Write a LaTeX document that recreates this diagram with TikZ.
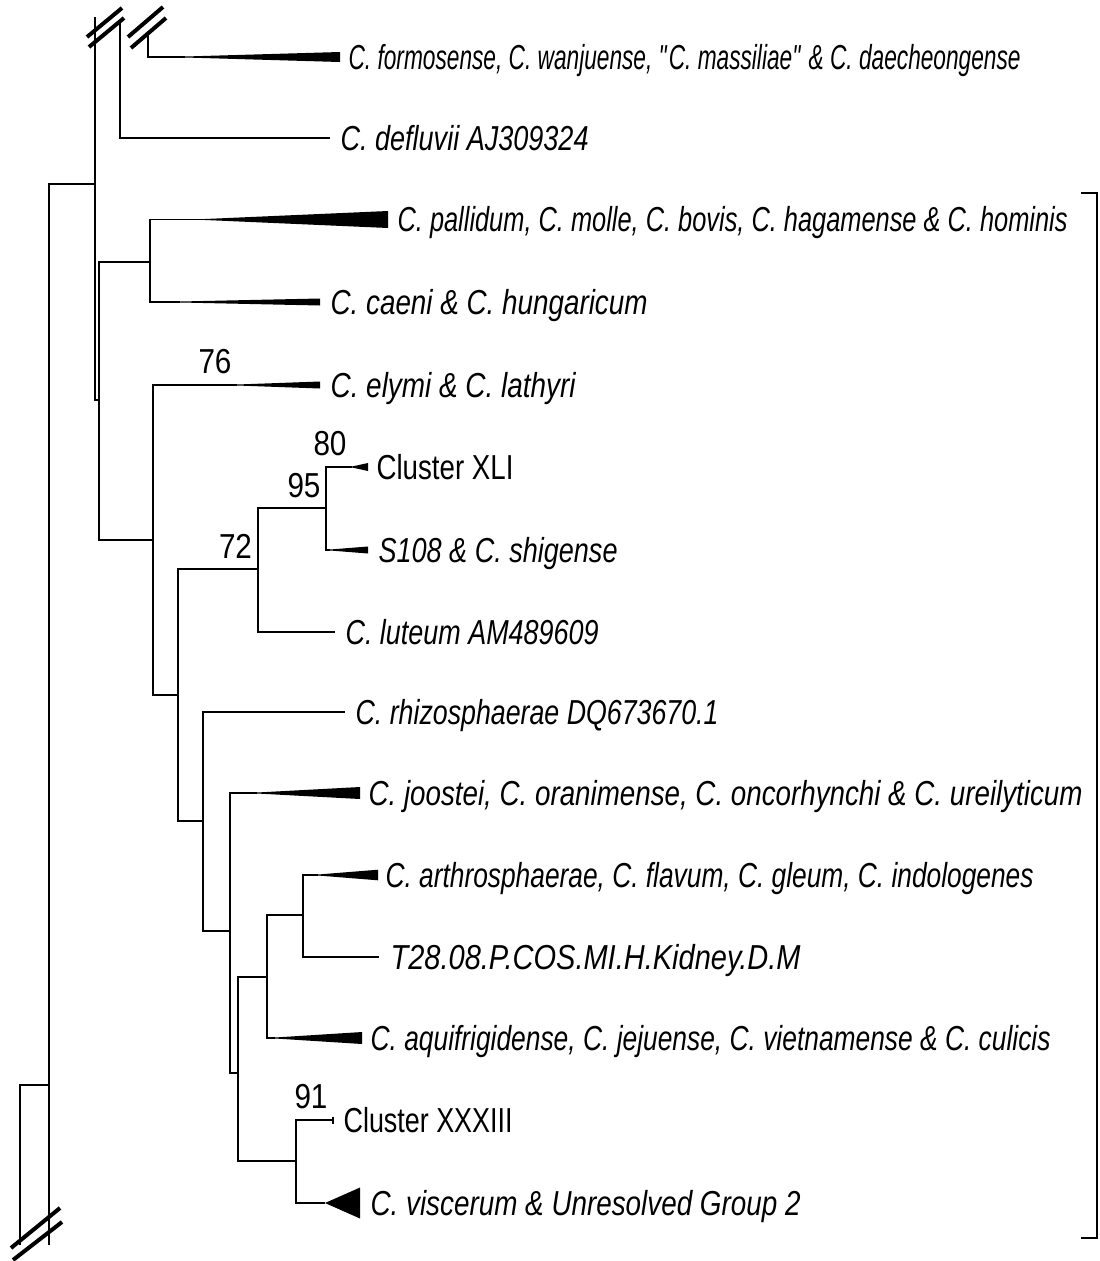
\documentclass[tikz,border=0pt]{standalone}
\usepackage{fontspec}
\setmainfont{Liberation Sans}[FakeStretch=0.80]
\newcommand\clade[4]{\fill (#1,#3-0.5) -- (#2,#3-#4) -- (#2,#3+#4) -- (#1,#3+0.5) -- cycle;}
\newsavebox\fitbox
\newcommand\fitw[2]{\sbox\fitbox{#2}\pgfmathsetmacro\fitr{#1*0.75/\wd\fitbox}\scalebox{\fitr}[1]{\usebox\fitbox}}
\begin{document}
\begin{tikzpicture}[x=0.75pt,y=-0.75pt, line width=0.9pt,
  brk/.style={line width=3pt},
  lab/.style={anchor=base west, inner sep=0pt, font=\fontsize{26}{30}\selectfont\itshape},
  labu/.style={anchor=base west, inner sep=0pt, font=\fontsize{26}{30}\selectfont},
  bs/.style={anchor=base, inner sep=0pt, font=\fontsize{26}{30}\selectfont}]
\useasboundingbox (0,0) rectangle (1100,1261);
% internal nodes
\coordinate (rt) at (20,1085); \coordinate (rb) at (20,1245);
\coordinate (a) at (49,1085); \coordinate (ab) at (49,1245);
\coordinate (b) at (95,184); \coordinate (bt) at (95,17);
\coordinate (c) at (120,22);
\coordinate (p) at (148,33);
\coordinate (d) at (99,400);
\coordinate (e) at (150,262);
\coordinate (f) at (153,540);
\coordinate (g) at (178,695);
\coordinate (h) at (258,569);
\coordinate (i) at (326,508);
\coordinate (j) at (203,821);
\coordinate (k) at (230,931);
\coordinate (l) at (238,1073);
\coordinate (m) at (267,977);
\coordinate (n) at (303,915);
\coordinate (o) at (296,1161);
% leaf ends
\coordinate (lf1) at (185,57);
\coordinate (lf2) at (330,138);
\coordinate (lf3) at (205,219.5);
\coordinate (lf4) at (180,302);
\coordinate (lf5) at (237,385);
\coordinate (lf6) at (352,467);
\coordinate (lf7) at (330,550);
\coordinate (lf8) at (335,632);
\coordinate (lf9) at (345,712);
\coordinate (lf10) at (257,793);
\coordinate (lf11) at (318,875);
\coordinate (lf12) at (379,957);
\coordinate (lf13) at (275,1038);
\coordinate (lf14) at (333,1120);
\coordinate (lf15) at (325,1203);
% branches
\draw (rb) -- (rt) -- (a);
\draw (ab) |- (b);
\draw (bt) |- (d);
\draw (c) |- (lf2);
\draw (p) |- (lf1);
\draw (d) |- (e); \draw (d) |- (f);
\draw (e) |- (lf3); \draw (e) |- (lf4);
\draw (f) |- (lf5); \draw (f) |- (g);
\draw (g) |- (h); \draw (g) |- (j);
\draw (h) |- (i); \draw (h) |- (lf8);
\draw (i) |- (lf6); \draw (i) |- (lf7);
\draw (j) |- (lf9); \draw (j) |- (k);
\draw (k) |- (lf10); \draw (k) |- (l);
\draw (l) |- (m); \draw (l) |- (o);
\draw (m) |- (n); \draw (m) |- (lf13);
\draw (n) |- (lf11); \draw (n) |- (lf12);
\draw (o) |- (lf14); \draw (o) |- (lf15);
\draw (333,1116.5) -- (333,1123.5);
% collapsed clades
\clade{185}{340}{57}{5}
\clade{205}{388}{219.5}{8.5}
\clade{180}{320}{302}{3.5}
\clade{237}{320}{385}{3.5}
\clade{352}{368}{467}{4}
\clade{330}{368}{550}{3.5}
\clade{257}{360}{793}{6}
\clade{318}{378}{875}{5.3}
\clade{275}{362}{1038}{6}
\fill (325,1203) -- (360,1187.5) -- (360,1218.5) -- cycle;
% break marks
\draw[brk] (87,37) -- (122,8);
\draw[brk] (89,47) -- (124,18);
\draw[brk] (128,37) -- (163,7);
\draw[brk] (131,48) -- (166,18);
\draw[brk] (11,1248) -- (60,1208);
\draw[brk] (13,1260) -- (62,1222);
% bracket
\coordinate (q1) at (1081,193); \coordinate (q2) at (1097,193);
\coordinate (q3) at (1097,1238); \coordinate (q4) at (1081,1238);
\draw (q1) -- (q2) -- (q3) -- (q4);
% labels
\node[lab] (t1) at (348,69) {\fitw{672}{C. formosense, C. wanjuense, \textquotedbl C. massiliae\textquotedbl{} \& C. daecheongense}};
\node[lab] (t2) at (340,150) {\fitw{248}{C. defluvii AJ309324}};
\node[lab] (t3) at (397,231) {\fitw{670}{C. pallidum, C. molle, C. bovis, C. hagamense \& C. hominis}};
\node[lab] (t4) at (330,314) {\fitw{317}{C. caeni \& C. hungaricum}};
\node[lab] (t5) at (330,397) {\fitw{245}{C. elymi \& C. lathyri}};
\node[labu] (t6) at (376,479) {\fitw{137}{Cluster XLI}};
\node[lab] (t7) at (378,562) {\fitw{239}{S108 \& C. shigense}};
\node[lab] (t8) at (345,644) {\fitw{253}{C. luteum AM489609}};
\node[lab] (t9) at (355,724) {\fitw{363}{C. rhizosphaerae DQ673670.1}};
\node[lab] (t10) at (368,805) {\fitw{714}{C. joostei, C. oranimense, C. oncorhynchi \& C. ureilyticum}};
\node[lab] (t11) at (385,887) {\fitw{648}{C. arthrosphaerae, C. flavum, C. gleum, C. indologenes}};
\node[lab] (t12) at (390,969) {\fitw{410}{T28.08.P.COS.MI.H.Kidney.D.M}};
\node[lab] (t13) at (370,1050) {\fitw{680}{C. aquifrigidense, C. jejuense, C. vietnamense \& C. culicis}};
\node[labu] (t14) at (343,1132) {\fitw{169}{Cluster XXXIII}};
\node[lab] (t15) at (370,1215) {\fitw{430}{C. viscerum \& Unresolved Group 2}};
% bootstrap values
\node[bs] (n76) at (215,373) {\fitw{33}{76}};
\node[bs] (n80) at (330,455) {\fitw{33}{80}};
\node[bs] (n95) at (304,497) {\fitw{33}{95}};
\node[bs] (n72) at (235.5,558) {\fitw{33}{72}};
\node[bs] (n91) at (311,1108) {\fitw{33}{91}};
\end{tikzpicture}
\end{document}
